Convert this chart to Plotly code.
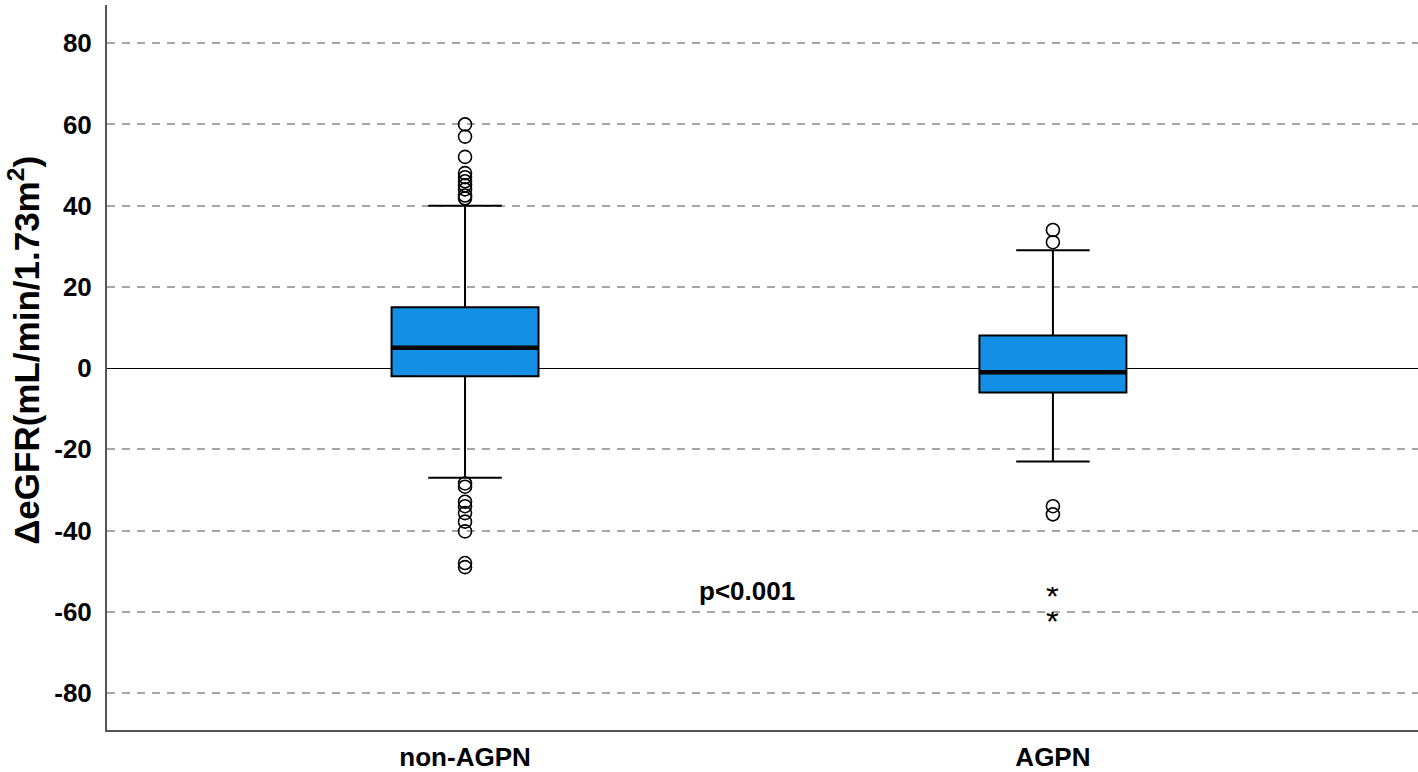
import plotly.graph_objects as go

# group labels and box statistics
groups = ["non-AGPN", "AGPN"]
q1 = [-2, -6]
median = [5, -1]
q3 = [15, 8]
low_whisker = [-27, -23]
high_whisker = [40, 29]

# outliers (circles) and extremes (stars)
outliers_nonagpn = [60, 57, 52, 48, 47, 46, 45, 44, 42.5, 41.8,
                    -28.4, -29.2, -32.9, -34, -35.7, -37.8, -40.2, -48, -49]
outliers_agpn = [34, 31, -34, -36]
extremes_agpn = [-55.1, -61.2]

p_text = "p<0.001"
p_pos = (0.48, -54.8)
y_title = "ΔeGFR(mL/min/1.73m<sup>2</sup>)"

box_w = 0.25
fill = "#148fe6"
xpos = list(range(len(groups)))

fig = go.Figure()

for i, g in enumerate(groups):
    fig.add_trace(go.Box(
        x=[xpos[i]], q1=[q1[i]], median=[median[i]], q3=[q3[i]],
        lowerfence=[low_whisker[i]], upperfence=[high_whisker[i]],
        width=box_w, whiskerwidth=0.5, boxpoints=False,
        fillcolor=fill, line=dict(color="black", width=2),
        name=g, showlegend=False, hoverinfo="skip"))
    # thicker median line
    fig.add_trace(go.Scatter(
        x=[xpos[i] - box_w / 2, xpos[i] + box_w / 2], y=[median[i], median[i]],
        mode="lines", line=dict(color="black", width=4.5),
        showlegend=False, hoverinfo="skip"))

circle = dict(symbol="circle-open", size=13, color="black", line=dict(width=1.6))
fig.add_trace(go.Scatter(x=[xpos[0]] * len(outliers_nonagpn), y=outliers_nonagpn,
                         mode="markers", marker=circle, showlegend=False))
fig.add_trace(go.Scatter(x=[xpos[1]] * len(outliers_agpn), y=outliers_agpn,
                         mode="markers", marker=circle, showlegend=False))

# extreme values drawn as asterisks
for v in extremes_agpn:
    fig.add_annotation(x=xpos[1], y=v, text="*", showarrow=False, yshift=-4,
                       height=18, valign="middle",
                       font=dict(size=33, color="black", family="Liberation Sans"))

fig.add_annotation(x=p_pos[0], y=p_pos[1], text="<b>" + p_text + "</b>",
                   showarrow=False, font=dict(size=26, color="black", family="Liberation Sans"))

# y-axis title as a rotated annotation so it can sit slightly above centre
fig.add_annotation(xref="paper", yref="paper", x=0, y=0.523, xshift=-83,
                   xanchor="center", yanchor="middle", textangle=-90,
                   text="<b>" + y_title + "</b>", showarrow=False,
                   font=dict(size=35, color="black", family="Liberation Sans"))

fig.update_layout(
    width=1418, height=772,
    margin=dict(l=107, r=0, t=5, b=42),
    plot_bgcolor="white", paper_bgcolor="white",
    font=dict(family="Liberation Sans", color="black"),
)
fig.update_xaxes(
    range=[-0.609, 1.621], tickvals=xpos,
    ticktext=["<b>%s</b>" % g for g in groups],
    tickfont=dict(size=26), showgrid=False, zeroline=False,
    showline=True, linecolor="#555", linewidth=2, ticks="", ticklabelstandoff=3,
)
fig.update_yaxes(
    range=[-89.1, 89.4], tickvals=list(range(-80, 81, 20)),
    ticktext=["<b>%d</b>" % v for v in range(-80, 81, 20)],
    tickfont=dict(size=26), showgrid=True, gridcolor="#a6a6a6", gridwidth=2,
    griddash="8px,7px", zeroline=True, zerolinecolor="black", zerolinewidth=1.2,
    showline=True, linecolor="#555", linewidth=2, ticks="", ticklabelstandoff=8,
)

fig.write_html("out.html", config={"displayModeBar": False},
               post_script="document.body.style.margin='0';")
